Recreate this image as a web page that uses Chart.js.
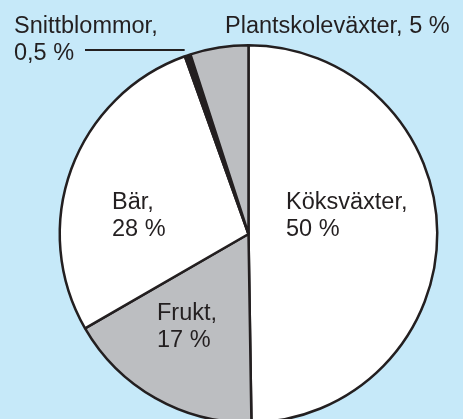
<!DOCTYPE html>
<html>
<head>
<meta charset="utf-8">
<script src="https://cdn.jsdelivr.net/npm/chart.js@4"></script>
<style>
  html, body { margin: 0; padding: 0; background: #c6e9f9; overflow: hidden; }
  #wrap { width: 463px; height: 440px; position: relative; }
</style>
</head>
<body>
<div id="wrap"><canvas id="pie"></canvas></div>
<script>
// data
const categories = ['Köksväxter', 'Frukt', 'Bär', 'Snittblommor', 'Plantskoleväxter'];
const shares = [50, 17, 28, 0.5, 5];
const shareLabels = ['50 %', '17 %', '28 %', '0,5 %', '5 %'];
const sliceColors = ['#ffffff', '#bcbec1', '#ffffff', '#231f20', '#bcbec1'];

const ink = '#231f20';
const font = '23.5px "Liberation Sans", Arial, Helvetica, sans-serif';

// text placement (left x, first baseline)
const labelPos = {
  'Köksväxter': [286, 209],
  'Bär': [112, 209],
  'Frukt': [157, 320],
  'Snittblommor': [14, 33],
};

const labelPlugin = {
  id: 'sliceLabels',
  afterDraw(chart) {
    const ctx = chart.ctx;
    const arcs = chart.getDatasetMeta(0).data;
    ctx.save();
    ctx.font = font;
    ctx.fillStyle = ink;
    ctx.textBaseline = 'alphabetic';
    ctx.textAlign = 'left';
    categories.forEach((name, i) => {
      const p = labelPos[name];
      if (!p) return;
      ctx.fillText(name + ',', p[0], p[1]);
      ctx.fillText(shareLabels[i], p[0], p[1] + 27);
    });
    // Plantskoleväxter sits above the pie on one line
    ctx.fillText(categories[4] + ', ' + shareLabels[4], 225, 33);

    // leader line for the thin slice
    const a = arcs[3];
    const mid = (a.startAngle + a.endAngle) / 2;
    const ex = a.x + Math.cos(mid) * a.outerRadius;
    ctx.strokeStyle = ink;
    ctx.lineWidth = 2;
    ctx.beginPath();
    ctx.moveTo(85, 50);
    ctx.lineTo(ex - 3, 50);
    ctx.stroke();
    ctx.restore();
  },
};

new Chart(document.getElementById('pie'), {
  type: 'pie',
  data: {
    labels: categories,
    datasets: [{
      data: shares,
      backgroundColor: sliceColors,
      borderColor: ink,
      borderWidth: 2.5,
      borderAlign: 'center',
    }],
  },
  options: {
    responsive: true,
    maintainAspectRatio: false,
    animation: false,
    layout: { padding: { left: 58, right: 24, top: 44, bottom: 16 } },
    plugins: {
      legend: { display: false },
      tooltip: { enabled: false },
    },
  },
  plugins: [labelPlugin],
});
</script>
</body>
</html>
